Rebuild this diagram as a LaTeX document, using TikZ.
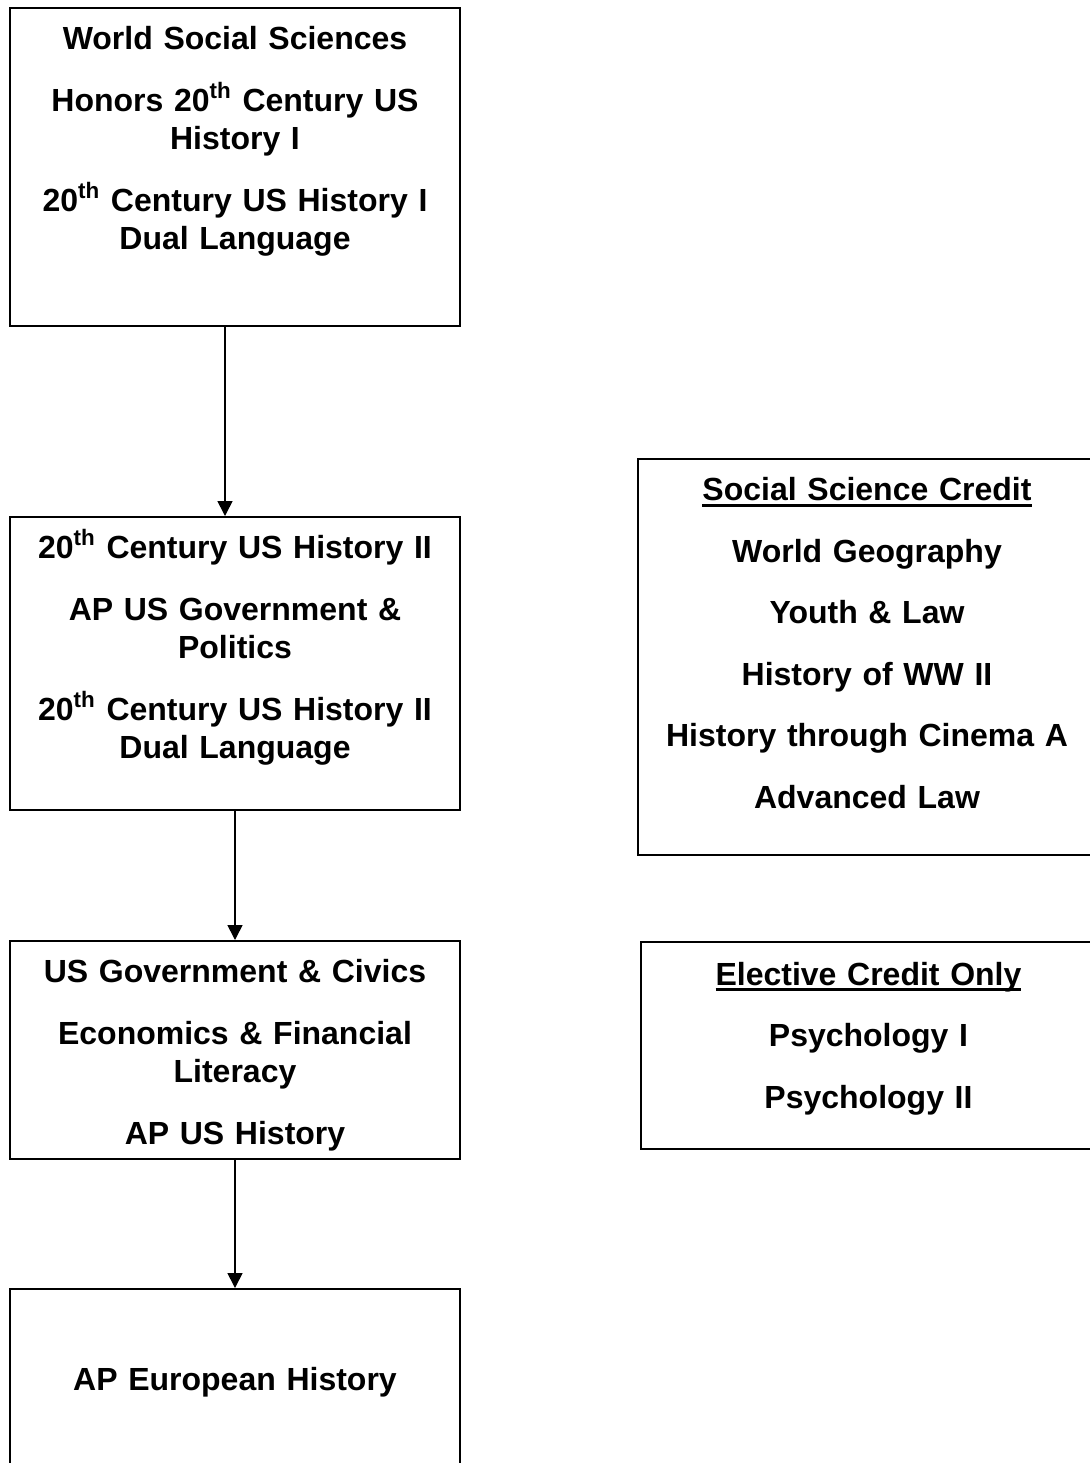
\documentclass[tikz,border=0pt]{standalone}
\usepackage{fontspec}
\setmainfont{Liberation Sans}
\usetikzlibrary{arrows.meta,positioning}
\newcommand{\ulhead}[1]{\setbox0\hbox{#1}\rlap{\rule[-3pt]{\wd0}{1.5pt}}\box0}

\begin{document}
\begin{tikzpicture}[x=0.5pt, y=-0.5pt, >={Triangle[length=7.5pt,width=7.5pt]},
  font=\fontsize{16pt}{19.3pt}\selectfont\bfseries,
  course/.style={draw, line width=1pt, inner sep=0pt, text width=225pt,
                 align=center, text height=20.75pt},
  credit/.style={course, text width=229pt},
  link/.style={->, line width=0.8pt}]
\useasboundingbox (0,0) rectangle (1089,1463);
% required course sequence down the left column
\node[course, anchor=north west, text depth=138.25pt] (wss) at (9,7)
  {World Social Sciences\\[11.5pt] Honors 20\textsuperscript{th} Century US\\ History I\\[11.5pt]
   20\textsuperscript{th} Century US History I\\ Dual Language};
\node[course, below=94.5pt of wss, text depth=125.75pt] (ush2)
  {20\textsuperscript{th} Century US History II\\[11.5pt] AP US Government \&\\ Politics\\[11.5pt]
   20\textsuperscript{th} Century US History II\\ Dual Language};
\node[course, below=64.5pt of ush2, text depth=88.25pt] (gov)
  {US Government \& Civics\\[11.5pt] Economics \& Financial\\ Literacy\\[11.5pt] AP US History};
\node[course, below=64pt of gov, text height=50.5pt, text depth=45pt] (euro)
  {AP European History};
% arrows between the steps
\draw[link] ([xshift=-5pt]wss.south) -- ([xshift=-5pt]ush2.north);
\draw[link] (ush2) -- (gov);
\draw[link] (gov) -- (euro);
% side lists of other courses
\node[credit, anchor=north west, text depth=177.25pt] (socsci) at (637,458)
  {\ulhead{Social Science Credit}\\[11.5pt] World Geography\\[11.5pt] Youth \& Law\\[11.5pt]
   History of WW II\\[11.5pt] History through Cinema A\\[11.5pt] Advanced Law};
\node[credit, anchor=north west, text width=227.5pt, text height=21.5pt, text depth=82pt] (elective) at (640,941)
  {\ulhead{Elective Credit Only}\\[11.5pt] Psychology I\\[11.5pt] Psychology II};
\end{tikzpicture}
\end{document}
